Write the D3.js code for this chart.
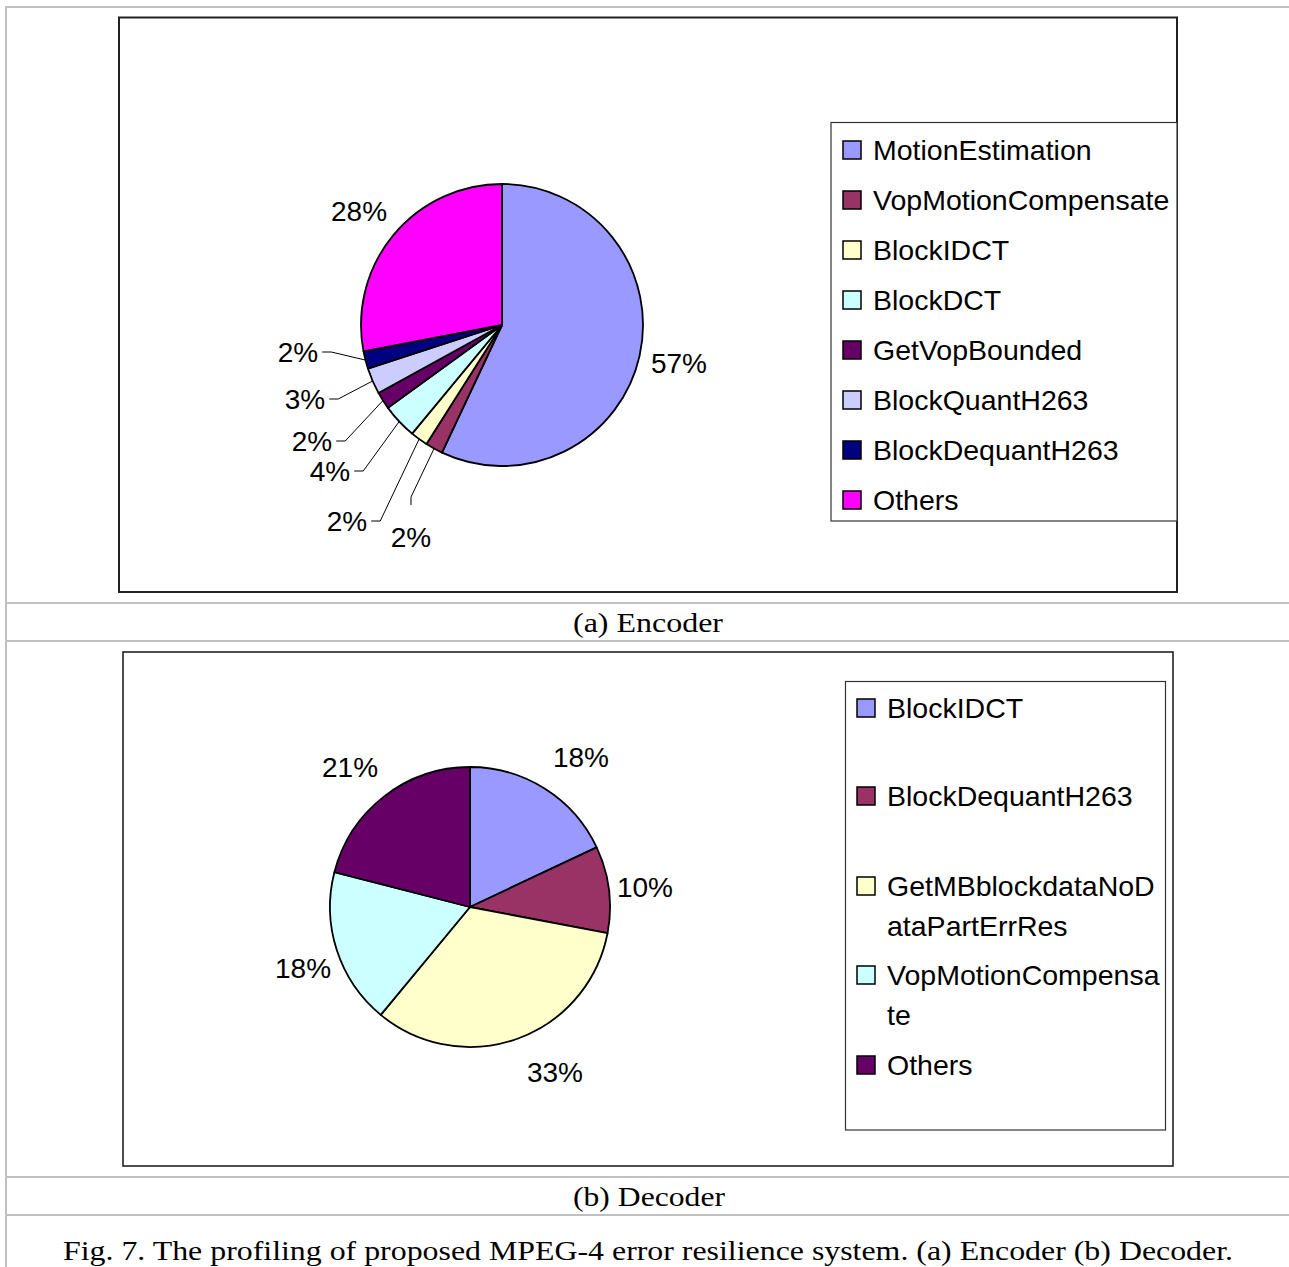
<!DOCTYPE html>
<html>
<head>
<meta charset="utf-8">
<script src="https://cdn.jsdelivr.net/npm/d3@7"></script>
<style>
  html, body { margin: 0; padding: 0; background: #fff; }
  svg { display: block; }
  .lbl { font-family: "Liberation Sans", Arial, sans-serif; font-size: 28px; fill: #000; }
  .leg { font-family: "Liberation Sans", Arial, sans-serif; font-size: 28.5px; fill: #000; }
  .cap { font-family: "Liberation Serif", "Times New Roman", serif; font-size: 28px; fill: #000; }
</style>
</head>
<body>
<script>
// ---------- data ----------
const encCategories = ["MotionEstimation", "VopMotionCompensate", "BlockIDCT", "BlockDCT",
                       "GetVopBounded", "BlockQuantH263", "BlockDequantH263", "Others"];
const encValues = [57, 2, 2, 4, 2, 3, 2, 28];
const encColors = ["#9999FF", "#993366", "#FFFFCC", "#CCFFFF", "#660066", "#CCCCFF", "#000080", "#FF00FF"];

const decCategories = ["BlockIDCT", "BlockDequantH263", "GetMBblockdataNoDataPartErrRes",
                       "VopMotionCompensate", "Others"];
const decValues = [18, 10, 33, 18, 21];
const decColors = ["#9999FF", "#993366", "#FFFFCC", "#CCFFFF", "#660066"];
const decLegendLines = [["BlockIDCT"], ["BlockDequantH263"], ["GetMBblockdataNoD", "ataPartErrRes"],
                        ["VopMotionCompensa", "te"], ["Others"]];

const captionA = "(a) Encoder";
const captionB = "(b) Decoder";
const figCaption = "Fig. 7. The profiling of proposed MPEG-4 error resilience system. (a) Encoder (b) Decoder.";

// ---------- layout (positions only) ----------
const encLabelOffsets = [[177, 38], [-91, 212], [-155, 196], [-172, 146], [-190, 116], [-197, 74], [-204, 27], [-143, -114]];
const encLeader = [null, "up", "left", "left", "left", "left", "left", null];
const decLabelOffsets = [[111, -150], [175, -20], [85, 165], [-167, 61], [-120, -140]];

const W = 1289, H = 1267;
const svg = d3.select("body").append("svg").attr("width", W).attr("height", H);

// table grid lines
const grid = svg.append("g").attr("stroke", "#c0c0c0").attr("stroke-width", 2);
grid.append("line").attr("x1", 6).attr("x2", 6).attr("y1", 6).attr("y2", H);
[7, 603, 641, 1177, 1215].forEach(y => grid.append("line").attr("x1", 5).attr("x2", W).attr("y1", y).attr("y2", y));

// chart frames
svg.append("rect").attr("x", 119).attr("y", 17.5).attr("width", 1058).attr("height", 574.5)
  .attr("fill", "none").attr("stroke", "#222").attr("stroke-width", 2);
svg.append("rect").attr("x", 123).attr("y", 652).attr("width", 1050).attr("height", 514)
  .attr("fill", "none").attr("stroke", "#222").attr("stroke-width", 1.6);

const fmt = d3.format(".0%");

function drawPie(opts) {
  const { cx, cy, r, values, colors, offsets, leaders } = opts;
  const total = d3.sum(values);
  const pie = d3.pie().sort(null).value(d => d).startAngle(0).endAngle(2 * Math.PI);
  const arcs = pie(values);
  const arc = d3.arc().innerRadius(0).outerRadius(r);
  const g = svg.append("g").attr("transform", `translate(${cx},${cy})`);
  g.selectAll("path.slice").data(arcs).enter().append("path")
    .attr("class", "slice")
    .attr("d", arc)
    .attr("fill", (d, i) => colors[i])
    .attr("stroke", "#000").attr("stroke-width", 1.8).attr("stroke-linejoin", "round");

  arcs.forEach((d, i) => {
    const [dx, dy] = offsets[i];
    const t = g.append("text").attr("class", "lbl")
      .attr("x", dx).attr("y", dy)
      .attr("text-anchor", "middle").attr("dominant-baseline", "central")
      .text(fmt(d.value / total));
    if (leaders && leaders[i]) {
      const w = t.node().getComputedTextLength();
      const mid = (d.startAngle + d.endAngle) / 2;
      const edge = [r * Math.sin(mid), -r * Math.cos(mid)];
      let pts;
      if (leaders[i] === "left") {
        const sx = dx + w / 2 + 4;
        pts = [[sx, dy], [sx + 9, dy], edge];
      } else {
        pts = [[dx, dy - 32], [dx, dy - 40], edge];
      }
      g.append("path").attr("d", d3.line()(pts))
        .attr("fill", "none").attr("stroke", "#000").attr("stroke-width", 1);
    }
  });
}

drawPie({ cx: 502, cy: 325, r: 141, values: encValues, colors: encColors, offsets: encLabelOffsets, leaders: encLeader });
drawPie({ cx: 470, cy: 907, r: 140, values: decValues, colors: decColors, offsets: decLabelOffsets, leaders: null });

// legends
function drawLegend(opts) {
  const { x, y, w, h, sx, tx, rows } = opts;
  svg.append("rect").attr("x", x).attr("y", y).attr("width", w).attr("height", h)
    .attr("fill", "#fff").attr("stroke", "#333").attr("stroke-width", 1.2);
  rows.forEach(rw => {
    svg.append("rect").attr("x", sx).attr("y", rw.y - 9).attr("width", 18).attr("height", 18)
      .attr("fill", rw.color).attr("stroke", "#000").attr("stroke-width", 1.5);
    rw.lines.forEach((ln, k) => {
      svg.append("text").attr("class", "leg").attr("x", tx).attr("y", rw.y + k * 40)
        .attr("dominant-baseline", "central").text(ln);
    });
  });
}

drawLegend({
  x: 831, y: 122.5, w: 346, h: 398.5, sx: 843, tx: 873,
  rows: encCategories.map((c, i) => ({ y: 150 + i * 50, color: encColors[i], lines: [c] }))
});

const decRowY = [708, 796, 886, 975, 1065];
drawLegend({
  x: 845.5, y: 681.5, w: 320, h: 448.5, sx: 857, tx: 887,
  rows: decCategories.map((c, i) => ({ y: decRowY[i], color: decColors[i], lines: decLegendLines[i] }))
});

// captions
function caption(txt, x, y, len) {
  svg.append("text").attr("class", "cap").attr("x", x).attr("y", y)
    .attr("text-anchor", "middle").attr("dominant-baseline", "central")
    .attr("textLength", len).attr("lengthAdjust", "spacingAndGlyphs")
    .text(txt);
}
caption(captionA, 648, 622, 150);
caption(captionB, 649, 1196, 152);
caption(figCaption, 648, 1250, 1170);
</script>
</body>
</html>
